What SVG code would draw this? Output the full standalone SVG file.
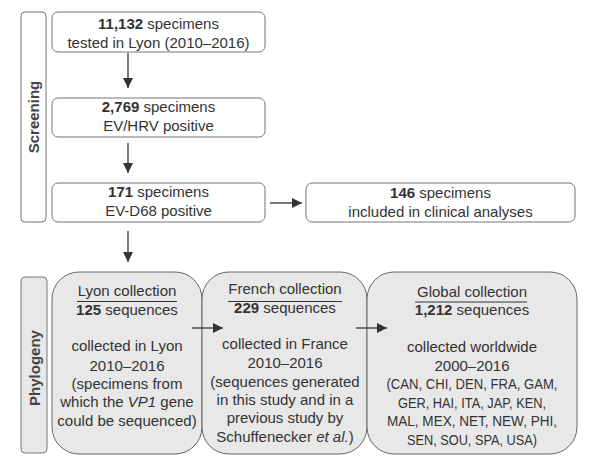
<svg xmlns="http://www.w3.org/2000/svg" width="597" height="466" viewBox="0 0 597 466">
<defs>
<style>
text{font-family:"Liberation Sans",Arial,sans-serif;font-size:15px;fill:#333;text-anchor:middle}
.b{font-weight:bold}
.i{font-style:italic}
.box{fill:#fff;stroke:#777;stroke-width:1}
.big{fill:#e8e8e8;stroke:#666;stroke-width:1}
.bar{fill:#fff;stroke:#777;stroke-width:1}
.bar2{fill:#e8e8e8;stroke:#777;stroke-width:1}
.lbl{font-weight:bold;font-size:15px;fill:#444}
.con{stroke:#333;stroke-width:1.3;fill:none;marker-end:url(#ah)}
.ul{stroke:#333;stroke-width:1.2}
</style>
<marker id="ah" viewBox="0 0 10 10" refX="10" refY="5" markerWidth="10" markerHeight="10" markerUnits="userSpaceOnUse" orient="auto">
<path d="M0,0 L10,5 L0,10 z" fill="#333"/>
</marker>
</defs>
<rect width="597" height="466" fill="#fff"/>

<g id="screening">
<rect class="bar" x="21" y="12" width="25" height="210" rx="4"/>
<text class="lbl" transform="translate(38.5,117) rotate(-90)">Screening</text>
</g>
<g id="phylogeny">
<rect class="bar2" x="21" y="277" width="26" height="176" rx="4"/>
<text class="lbl" transform="translate(39.5,368) rotate(-90)">Phylogeny</text>
</g>

<g id="n1">
<rect class="box" x="52" y="12" width="213" height="40" rx="6"/>
<text x="158.5" y="29"><tspan class="b">11,132</tspan> specimens</text>
<text x="158.5" y="48">tested in Lyon (2010–2016)</text>
</g>
<g id="n2">
<rect class="box" x="52" y="98" width="213" height="39" rx="6"/>
<text x="158.5" y="112"><tspan class="b">2,769</tspan> specimens</text>
<text x="158.5" y="131">EV/HRV positive</text>
</g>
<g id="n3">
<rect class="box" x="52" y="183" width="213" height="39" rx="6"/>
<text x="158.5" y="197"><tspan class="b">171</tspan> specimens</text>
<text x="158.5" y="216">EV-D68 positive</text>
</g>
<g id="n4">
<rect class="box" x="306" y="183" width="269" height="39" rx="6"/>
<text x="440.5" y="198"><tspan class="b">146</tspan> specimens</text>
<text x="440.5" y="217">included in clinical analyses</text>
</g>

<g id="lyon">
<rect class="big" x="52" y="272" width="150" height="182" rx="27"/>
<text x="127" y="296">Lyon collection</text>
<line class="ul" x1="77" y1="301.5" x2="177" y2="301.5"/>
<text x="127" y="315"><tspan class="b">125</tspan> sequences</text>
<text x="127" y="351">collected in Lyon</text>
<text x="127" y="371">2010–2016</text>
<text x="127" y="389">(specimens from</text>
<text x="127" y="407">which the <tspan class="i">VP1</tspan> gene</text>
<text x="127" y="426">could be sequenced)</text>
</g>
<g id="french">
<rect class="big" x="202" y="272" width="165" height="182" rx="27"/>
<text x="285" y="294">French collection</text>
<line class="ul" x1="228" y1="301.5" x2="342" y2="301.5"/>
<text x="285" y="313"><tspan class="b">229</tspan> sequences</text>
<text x="285" y="349">collected in France</text>
<text x="285" y="368">2010–2016</text>
<text x="285" y="387">(sequences generated</text>
<text x="285" y="405">in this study and in a</text>
<text x="285" y="423">previous study by</text>
<text x="285" y="442">Schuffenecker <tspan class="i">et al.</tspan>)</text>
</g>
<g id="global">
<rect class="big" x="367" y="272" width="210" height="182" rx="27"/>
<text x="472" y="297">Global collection</text>
<line class="ul" x1="415" y1="302" x2="527" y2="302"/>
<text x="472" y="315"><tspan class="b">1,212</tspan> sequences</text>
<text x="472" y="352">collected worldwide</text>
<text x="472" y="371">2000–2016</text>
<text x="472" y="389" textLength="171" lengthAdjust="spacingAndGlyphs">(CAN, CHI, DEN, FRA, GAM,</text>
<text x="472" y="408" textLength="148" lengthAdjust="spacingAndGlyphs">GER, HAI, ITA, JAP, KEN,</text>
<text x="472" y="426" textLength="170" lengthAdjust="spacingAndGlyphs">MAL, MEX, NET, NEW, PHI,</text>
<text x="472" y="445" textLength="130" lengthAdjust="spacingAndGlyphs">SEN, SOU, SPA, USA)</text>
</g>

<g id="connectors">
<line class="con" x1="128" y1="53" x2="128" y2="88"/>
<line class="con" x1="128" y1="143" x2="128" y2="173"/>
<line class="con" x1="128" y1="231" x2="128" y2="262"/>
<line class="con" x1="270" y1="203" x2="302" y2="203"/>
<line class="con" x1="192" y1="328" x2="223" y2="328"/>
<line class="con" x1="356" y1="328" x2="387" y2="328"/>
</g>
</svg>
